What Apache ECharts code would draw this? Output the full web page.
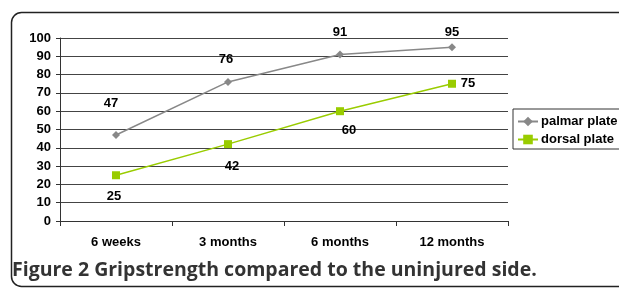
<!DOCTYPE html>
<html>
<head>
<meta charset="utf-8">
<script src="https://cdn.jsdelivr.net/npm/echarts@6/dist/echarts.min.js"></script>
<style>
  html, body { margin: 0; padding: 0; background: #fff; }
  #main { width: 619px; height: 289px; }
</style>
</head>
<body>
<div id="main"></div>
<script>
var chartDom = document.getElementById('main');
var myChart = echarts.init(chartDom);
var option;

// data
const periods = ['6 weeks', '3 months', '6 months', '12 months']
const palmar = [47, 76, 91, 95]
const dorsal = [25, 42, 60, 75]

// where each value label sits relative to its point
const palmarLabelOffsets = [[-5, -32], [-2, -22], [0, -22], [0, -15]]
const dorsalLabelOffsets = [[-2, 21], [4, 22], [9, 19], [16, 0]]

const lbl = { fontFamily: 'Liberation Sans', fontWeight: 'bold', fontSize: 13, color: '#000' }

option = {
  animation: false,
  textStyle: { fontFamily: 'Liberation Sans' },
  graphic: [
    {
      type: 'rect',
      shape: { x: 11.5, y: 12.5, width: 640, height: 274, r: 10 },
      style: { fill: 'none', stroke: '#222', lineWidth: 1.5 },
      z: 0
    },
    {
      type: 'text',
      left: 12,
      top: 260,
      style: {
        text: 'Figure 2 Gripstrength compared to the uninjured side.',
        font: 'bold 19.5px "Open Sans"',
        fill: '#333'
      }
    }
  ],
  grid: { left: 60, top: 38, width: 448, height: 183 },
  xAxis: {
    type: 'category',
    data: periods,
    boundaryGap: true,
    axisLine: { lineStyle: { color: '#333', width: 1 } },
    axisTick: { show: true, length: 5, lineStyle: { color: '#333' } },
    axisLabel: Object.assign({ margin: 15 }, lbl),
    splitLine: { show: false }
  },
  yAxis: {
    type: 'value',
    min: 0,
    max: 100,
    interval: 10,
    axisLine: { show: true, lineStyle: { color: '#333' } },
    axisTick: { show: true, length: 4, inside: false, lineStyle: { color: '#333' } },
    axisLabel: Object.assign({ margin: 9 }, lbl),
    splitLine: { lineStyle: { color: '#444', width: 1 } }
  },
  legend: {
    orient: 'vertical',
    left: 513,
    top: 109,
    padding: [6, 10, 3, 4],
    itemGap: 5,
    itemWidth: 20,
    itemHeight: 12,
    borderColor: '#333',
    borderWidth: 1,
    backgroundColor: '#fff',
    textStyle: Object.assign({}, lbl, { fontSize: 13, padding: [0, 0, 0, -2] }),
    data: ['palmar plate', 'dorsal plate']
  },
  series: [
    {
      name: 'palmar plate',
      type: 'line',
      data: palmar.map((v, i) => ({
        value: v,
        label: { offset: palmarLabelOffsets[i] }
      })),
      color: '#888888',
      symbol: 'diamond',
      symbolSize: 8,
      lineStyle: { width: 1.5, color: '#888888' },
      itemStyle: { color: '#888888' },
      label: Object.assign({ show: true, position: 'inside' }, lbl)
    },
    {
      name: 'dorsal plate',
      type: 'line',
      data: dorsal.map((v, i) => ({
        value: v,
        label: { offset: dorsalLabelOffsets[i] }
      })),
      color: '#99cc00',
      symbol: 'rect',
      symbolSize: 8,
      lineStyle: { width: 1.5, color: '#99cc00' },
      itemStyle: { color: '#99cc00' },
      label: Object.assign({ show: true, position: 'inside' }, lbl)
    }
  ]
};

option && myChart.setOption(option);
</script>
</body>
</html>
